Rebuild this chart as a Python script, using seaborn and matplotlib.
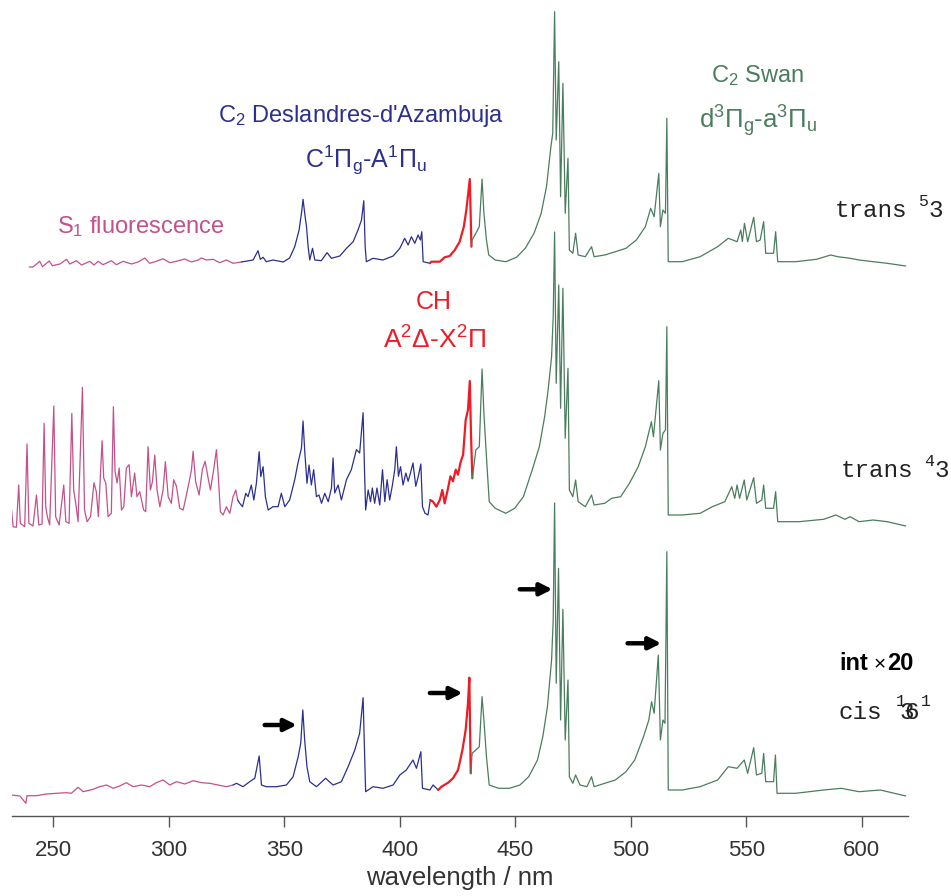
import numpy as np
import pandas as pd
import seaborn as sns
import matplotlib.pyplot as plt

# band names / colours along each spectrum
bands = ["S1", "DA", "CH", "Swan"]
band_colors = {"S1": "#c4508c", "DA": "#2b2f8f", "CH": "#ee1c25", "Swan": "#4a7d5e"}
band_widths = {"S1": 0.9, "DA": 0.9, "CH": 1.6, "Swan": 0.9}

# ---- trans 5^3 (top) : wavelength / nm, intensity above its baseline ----
t53_wl = [239.5, 241.2, 244.1, 245.3, 248.2, 249.6, 252.8, 255.7, 257.1, 260.0, 262.2, 265.8,
          267.6, 269.4, 271.5, 275.1, 277.3, 280.2, 283.8, 286.7, 289.6, 291.7, 294.6, 297.5,
          300.4, 303.3, 306.9, 309.8, 312.7, 314.1, 316.3, 319.2, 322.0, 324.9, 327.8, 331.4,
          332.1, 336.5, 338.6, 339.6, 340.8, 342.2, 345.1, 349.5, 352.3, 354.5, 356.4, 357.5,
          358.1, 359.0, 359.6, 360.3, 361.0, 362.2, 363.2, 366.0, 368.5, 370.4, 374.0, 376.9,
          379.8, 381.9, 383.4, 384.4, 385.0, 385.5, 388.4, 392.7, 397.1, 400.0, 402.1, 403.6,
          405.0, 406.5, 407.9, 408.9, 409.5, 410.1, 413.0,
          413.7, 417.3, 419.4, 421.6, 423.8, 425.9, 427.7, 428.8, 430.3, 431.0,
          431.3, 432.9, 434.4, 435.6, 436.4, 437.5, 438.5, 441.3, 445.9, 450.5, 454.3, 458.1,
          461.2, 463.5, 465.4, 466.2, 467.0, 467.7, 468.8, 469.6, 470.6, 471.6, 472.8, 473.4,
          474.9, 476.1, 477.2, 480.3, 483.0, 484.1, 488.7, 493.3, 497.9, 502.4, 506.3, 508.6,
          510.1, 512.1, 512.8, 513.9, 515.0, 515.6, 516.2, 522.3, 530.0, 537.6, 542.2, 546.0,
          547.6, 548.3, 549.2, 550.6, 553.2, 554.4, 556.0, 557.5, 558.4, 561.8, 562.7, 563.6,
          571.3, 580.4, 586.5, 589.6, 595.0, 598.8, 604.9, 611.0, 619.0]
t53_int = [0, 0, 5.7, 0.3, 6, 1.3, 3, 7.7, 3, 6.3, 2, 5.7,
           2, 5.7, 2.3, 6.3, 2.3, 5.7, 3, 5, 9, 3.7, 5.7, 8.3,
           4.3, 5.7, 8, 5, 7, 9, 7, 7.7, 4.3, 7, 3.7, 5,
           5.3, 7, 16.3, 7.7, 9.7, 5.3, 7, 5, 9, 20.3, 37, 55.3,
           67.7, 50.3, 40.3, 20.3, 7, 18.7, 7, 6.3, 14.3, 8.7, 11, 18.7,
           25.3, 37, 47, 66.3, 20.3, 5.3, 8.7, 7, 11, 18.7, 28.7, 22,
           30.3, 23.7, 32, 27, 35.3, 5.3, 3.7,
           5.3, 5.3, 9.7, 11, 17, 25.3, 40.3, 57, 88, 20.3,
           27, 33.7, 40.3, 88, 53.7, 27, 12, 7, 5.3, 9.7, 18.7, 33.7,
           53.7, 80.3, 120.3, 133.7, 255.3, 127, 205.3, 70.3, 183.7, 53.7, 108.7, 17,
           13.7, 33.7, 12, 10.3, 20.3, 10.3, 12, 15.3, 18.7, 27, 40.3, 58.7,
           50.3, 93.7, 40.3, 57, 53.7, 148.7, 5.3, 5.3, 10.3, 20.3, 28.7, 25.3,
           37, 25.3, 43.7, 25.3, 49.7, 25.3, 27, 45.3, 13.7, 13.7, 35.3, 5.3,
           5.3, 7.7, 12, 10.3, 8.7, 7, 5.3, 3.7, 1]
t53_edges = [331.8, 413.5, 431.1]

# ---- trans 4^3 (middle) ----
t43_wl = [231.9, 232.6, 234.0, 235.0, 235.7, 237.6, 238.6, 239.4, 241.2, 242.7, 243.7, 245.1,
          246.0, 246.7, 247.4, 248.4, 250.2, 251.0, 252.5, 254.5, 255.4, 256.8, 258.0, 258.8,
          259.7, 260.7, 262.6, 263.5, 264.6, 266.1, 267.6, 268.6, 269.5, 271.1, 271.8, 272.7,
          273.7, 275.1, 276.0, 276.7, 277.6, 278.5, 279.5, 280.5, 281.6, 282.8, 283.8, 285.2,
          286.2, 287.4, 289.1, 290.0, 291.0, 292.0, 292.9, 293.9, 294.9, 296.1, 297.5, 298.5,
          299.7, 301.1, 302.1, 303.3, 304.7, 306.2, 307.3, 308.8, 309.8, 310.5, 311.6, 313.1,
          314.5, 315.7, 317.0, 318.0, 319.4, 320.6, 321.5, 322.3, 323.5, 324.9, 326.4, 327.8,
          329.0, 329.8,
          330.7, 331.9, 333.3, 334.3, 335.7, 336.8, 337.9, 339.1, 339.8, 340.8, 341.8, 343.0,
          345.1, 347.3, 348.7, 350.2, 352.3, 354.5, 355.9, 357.4, 358.1, 358.8, 359.8, 360.7,
          361.7, 362.7, 363.9, 365.0, 366.1, 367.5, 369.0, 370.4, 371.1, 371.8, 373.3, 374.7,
          376.9, 379.0, 381.2, 382.6, 384.1, 384.7, 385.2, 386.3, 387.3, 388.1, 389.1, 390.1,
          391.3, 392.5, 393.5, 394.5, 395.6, 396.8, 397.8, 398.5, 399.4, 400.3, 401.4, 402.6,
          403.6, 404.6, 405.7, 406.9, 408.0, 409.1, 409.8, 410.9, 412.2, 413.2,
          414.4, 415.8, 417.3, 418.4, 419.4, 420.9, 421.9, 423.0, 424.2, 425.2, 426.2, 427.4,
          428.5, 429.5, 430.3, 430.8, 431.4,
          432.9, 434.4, 435.6, 436.4, 437.5, 438.7, 441.3, 445.9, 449.7, 453.5, 457.3, 460.4,
          462.7, 464.2, 465.7, 466.4, 467.0, 467.7, 468.8, 469.6, 470.6, 471.6, 472.8, 473.4,
          474.9, 476.1, 477.2, 480.3, 483.0, 484.1, 488.7, 491.7, 495.6, 499.4, 503.2, 506.3,
          508.9, 509.8, 512.1, 512.8, 513.9, 515.0, 515.6, 516.2, 522.3, 530.0, 535.3, 540.7,
          543.7, 545.0, 546.0, 547.1, 549.1, 550.2, 553.2, 554.4, 556.7, 557.5, 558.4, 561.8,
          562.7, 563.6, 572.8, 583.5, 588.8, 592.7, 595.0, 598.8, 604.9, 611.0, 619.0]
t43_int = [18, 1.3, 0.7, 43, 4.7, 1.3, 84, 4.7, 2, 33, 3, 4,
           104.7, 21.3, 11.3, 3, 122, 11.3, 3, 43, 6.3, 4.7, 114.7, 38,
           24.7, 6.3, 140.7, 18, 6.3, 11.3, 45.3, 36.3, 11.3, 87.3, 50, 45,
           11.3, 14.7, 121.3, 56.7, 45, 60, 18, 21.3, 60, 63.3, 31.3, 55,
           31.3, 36.3, 18, 16.3, 81.3, 38, 46.3, 73, 38, 21.3, 38, 66.3,
           31.3, 24.7, 48.3, 41.7, 19.7, 18, 29.7, 46.3, 58.3, 76.7, 46.3, 33,
           58.3, 66.7, 50, 38, 58.3, 78.3, 48.3, 16.3, 13, 21.3, 14.7, 31.3,
           38, 28,
           24.7, 21.3, 34.7, 31.3, 43, 28, 44.7, 76.3, 51.3, 61.3, 31.3, 18,
           21.3, 21.3, 34.7, 21.3, 28, 48.3, 65, 79.7, 107, 78, 44.7, 63,
           43, 58.3, 31.3, 33, 24.7, 34.7, 26.3, 40, 70, 35, 43, 28,
           48.3, 58.3, 78.3, 75, 115.3, 58.3, 18, 38, 26.3, 40, 24.7, 40,
           23, 58.3, 26.3, 48.3, 28, 43, 58.3, 81.3, 51.7, 61.3, 43, 55,
           46.7, 55, 65, 41.7, 51.7, 64, 21.3, 14.7, 13, 28,
           26.3, 21.3, 28, 38, 24.7, 40, 51.7, 46.7, 58.3, 53.3, 65, 73.3,
           108, 118, 147, 94.7, 49.7,
           78, 81.3, 159, 114.7, 71.3, 26.3, 19.7, 14.7, 19.7, 31.3, 58, 81.3,
           111.3, 138, 171.3, 211.3, 296, 144.7, 243, 119.7, 239.7, 89.7, 159.7, 38,
           31.3, 48, 26.3, 21.3, 33, 23, 24.7, 29.7, 31.3, 44.7, 61.3, 81.3,
           106.3, 91.3, 147.3, 78, 94.7, 98, 201.3, 13, 13, 14.7, 21.3, 26.3,
           41.3, 29.7, 43, 29.7, 48, 28, 50.3, 24.7, 28, 43, 19.7, 19.7,
           36.3, 6.3, 6.3, 8.7, 13, 8.7, 11.3, 6.3, 8, 6.3, 2]
t43_edges = [330.3, 413.8, 431.5]

# ---- cis 3^1 6^1 (bottom, int x 20) ----
cis_wl = [231.9, 235.5, 238.1, 238.6, 242.7, 247.0, 251.3, 255.7, 257.8, 260.7, 262.9, 267.2,
          270.1, 273.0, 275.9, 278.7, 281.6, 284.5, 288.1, 291.7, 294.6, 297.5, 300.4, 303.3,
          306.9, 310.5, 314.1, 317.7, 321.3, 324.9, 327.8,
          329.3, 332.1, 335.0, 337.2, 339.1, 340.1, 342.2, 346.6, 350.9, 353.8, 356.0, 357.1,
          358.0, 358.8, 359.8, 361.0, 363.9, 367.9, 371.1, 374.7, 377.6, 380.5, 382.6, 384.1,
          384.7, 385.2, 388.4, 392.7, 397.1, 400.0, 402.8, 405.7, 407.2, 409.1, 409.8, 413.0,
          414.4, 416.6,
          418.0, 420.9, 423.0, 425.2, 427.1, 428.5, 429.5, 430.1, 430.7,
          431.3, 432.9, 434.4, 435.6, 436.4, 437.5, 438.7, 442.8, 447.4, 452.0, 455.8, 459.6,
          461.9, 463.9, 465.7, 466.4, 467.0, 467.7, 468.7, 469.6, 470.6, 471.6, 472.8, 473.4,
          474.9, 476.1, 478.0, 481.0, 483.0, 484.1, 488.7, 493.3, 497.9, 501.7, 505.5, 507.8,
          509.0, 510.1, 511.9, 512.8, 513.9, 514.8, 515.6, 516.2, 522.3, 530.0, 537.6, 542.2,
          546.0, 549.1, 550.6, 553.2, 554.4, 556.7, 557.5, 558.4, 561.8, 562.6, 563.3, 571.3,
          583.5, 591.1, 598.8, 608.0, 614.1, 619.0]
cis_int = [3, 2, -5.3, 2.3, 2.3, 4, 4.7, 5.3, 4.7, 10.7, 6.3, 8.7,
           11.3, 13, 9.7, 12, 15.3, 11.3, 13, 11.3, 15.3, 18, 13, 16.3,
           14, 17.3, 15.3, 14.7, 13, 11.3, 13,
           14.7, 11.3, 16.3, 19.7, 42, 13, 11.3, 11.3, 13, 21.3, 41.3, 54.7,
           88, 58, 31.3, 16.3, 11.3, 19.7, 13, 16.3, 31.3, 48, 64.7, 100.3,
           48, 6.3, 11.3, 9.7, 13, 23, 28, 38, 29.7, 46.3, 9.7, 8,
           13, 8,
           11.3, 15.3, 19.7, 28, 48, 68, 94.7, 120.3, 24.7,
           44.7, 48, 51.3, 101.3, 78, 41.3, 13, 9.7, 9.7, 13, 21.3, 38,
           61.3, 91.3, 138, 178, 295, 114.7, 229.7, 78, 188.7, 58, 118, 21.3,
           14.7, 23, 13, 11.3, 21.3, 11.3, 14.7, 18, 26.3, 38, 61.3, 78,
           96.3, 84.7, 143, 58, 78, 74.7, 246.3, 8, 8, 11.3, 18, 31.3,
           29.7, 38, 24.7, 50.3, 23, 24.7, 44.7, 16.3, 16.3, 43, 4.7, 4.7,
           8, 9.7, 6.3, 8, 4.7, 2]
cis_edges = [328.5, 417.3, 431.0]

# vertical stacking of the three spectra
offsets = {"trans53": 549, "trans43": 288, "cis": 18}

# arrows on the cis spectrum: (start nm, end nm, height)
arrow_x0 = [341.5, 413.0, 451.9, 498.6]
arrow_x1 = [355.4, 427.2, 466.1, 513.2]
arrow_y = [91, 123, 226.7, 172.7]


def to_rows(name, wl, inten, edges):
    wl = np.asarray(wl)
    inten = np.asarray(inten) + offsets[name]
    idx = np.searchsorted(edges, wl)
    rows = []
    for b, band in enumerate(bands):
        sel = list(np.where(idx == b)[0])
        if not sel:
            continue
        if b > 0 and sel[0] > 0:
            sel = [sel[0] - 1] + sel
        for i in sel:
            rows.append({"wl": wl[i], "y": inten[i], "band": band, "seg": f"{name}-{band}"})
    return rows


rows = (to_rows("trans53", t53_wl, t53_int, t53_edges)
        + to_rows("trans43", t43_wl, t43_int, t43_edges)
        + to_rows("cis", cis_wl, cis_int, cis_edges))
df = pd.DataFrame(rows)

sns.set_theme(style="white")
plt.rcParams["font.family"] = ["Liberation Sans", "DejaVu Sans"]
plt.rcParams["mathtext.fontset"] = "custom"
plt.rcParams["mathtext.rm"] = "Liberation Sans"
plt.rcParams["mathtext.it"] = "Liberation Sans"
plt.rcParams["mathtext.bf"] = "Liberation Sans:bold"
plt.rcParams["mathtext.default"] = "regular"

W, H = 951, 896
fig = plt.figure(figsize=(W / 100, H / 100), dpi=100)
ax = fig.add_axes([12 / W, 80 / H, (908 - 12) / W, 816 / H])

sns.lineplot(data=df, x="wl", y="y", hue="band", size="band", units="seg",
             estimator=None, sort=False, palette=band_colors, sizes=band_widths,
             legend=False, ax=ax)

for x0, x1, y in zip(arrow_x0, arrow_x1, arrow_y):
    ax.annotate("", xy=(x1, y), xytext=(x0, y),
                arrowprops=dict(arrowstyle="-|>", color="black", lw=3.2,
                                mutation_scale=18, shrinkA=0, shrinkB=0))

ax.set_xlim(232.1, 620)
ax.set_ylim(0, 816)
ax.set_xticks([250, 300, 350, 400, 450, 500, 550, 600])
ax.set_yticks([])
ax.set_xlabel("wavelength / nm", fontsize=18.5, color="#333333", labelpad=4)
ax.set_ylabel("")
for s in ["top", "left", "right"]:
    ax.spines[s].set_visible(False)
ax.spines["bottom"].set_color("#555555")
ax.spines["bottom"].set_linewidth(1.0)
ax.tick_params(axis="x", direction="out", length=8, width=1, color="#555555",
               labelsize=16, labelcolor="#333333", pad=9, bottom=True)


def ptext(x, y, s, **kw):
    fig.text(x / W, 1 - y / H, s, va="baseline", **kw)


pink, navy, red, green = (band_colors[b] for b in bands)
ptext(57, 233, "S$_1$ fluorescence", fontsize=17, color=pink)
ptext(361, 122, "C$_2$ Deslandres-d'Azambuja", fontsize=17, color=navy, ha="center")
ptext(366, 168, "C$^1$Π$_g$-A$^1$Π$_u$", fontsize=18, color=navy, ha="center")
ptext(434, 309, "CH", fontsize=18, color=red, ha="center")
ptext(434, 349, "A$^2$Δ-X$^2$Π", fontsize=19, color=red, ha="center")
ptext(758, 82, "C$_2$ Swan", fontsize=17, color=green, ha="center")
ptext(758, 128, "d$^3$Π$_g$-a$^3$Π$_u$", fontsize=18.5, color=green, ha="center")

mono = dict(family="Liberation Mono", color="#222222")
ptext(835, 217, "trans", fontsize=17.5, **mono)
ptext(918, 206, "5", fontsize=12, **mono)
ptext(928, 217, "3", fontsize=17.5, **mono)
ptext(841, 477, "trans", fontsize=17.5, **mono)
ptext(924, 466, "4", fontsize=12, **mono)
ptext(934, 477, "3", fontsize=17.5, **mono)
ptext(838, 719, "cis", fontsize=17.5, **mono)
ptext(896, 706, "1", fontsize=12, **mono)
ptext(899, 719, "3", fontsize=17.5, **mono)
ptext(904, 719, "6", fontsize=17.5, **mono)
ptext(921, 706, "1", fontsize=12, **mono)
ptext(839, 670, "int", fontsize=17, weight="bold", color="black")
ptext(874, 670, "×", fontsize=15, color="black")
ptext(887, 670, "20", fontsize=17, weight="bold", color="black")

fig.savefig("out.png", dpi=100)
